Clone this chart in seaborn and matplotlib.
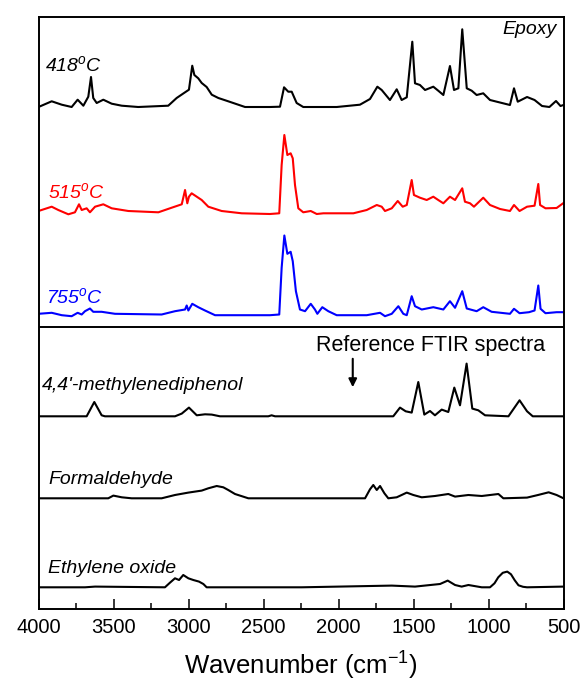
import matplotlib
matplotlib.use("Agg")
import matplotlib.pyplot as plt
import seaborn as sns
from matplotlib.ticker import MultipleLocator

# ---------------- data (wavenumber cm-1, relative absorbance) ----------------
w418 = [4000, 3912, 3845, 3779, 3739, 3701, 3668, 3650, 3635, 3612, 3568, 3512, 3445, 3335, 3135, 3079,
        3023, 2997, 2975, 2961, 2935, 2912, 2879, 2845, 2801, 2735, 2623, 2457, 2390, 2363, 2335, 2312,
        2279, 2235, 2012, 1857, 1790, 1741, 1712, 1657, 1612, 1579, 1545, 1508, 1490, 1457, 1423, 1368,
        1335, 1301, 1257, 1230, 1201, 1175, 1145, 1112, 1079, 1035, 990, 945, 857, 830, 805, 743, 693,
        643, 594, 550, 520, 500]
a418 = [0, 5.7, 2.3, 0, 7.3, 1.3, 10.3, 30, 9, 4, 7.3, 3.3, 1.3, 0, 1.3, 9,
        14.7, 17.3, 41.3, 32, 28.7, 24, 20, 12.3, 9, 5.7, 0, 0, 0.3, 19.7, 15.3, 15.3,
        4, 0, 0, 2.3, 8, 20.3, 17, 7, 17.7, 7, 9.7, 65.3, 23.7, 22, 17, 20.3,
        16.3, 12, 41, 17, 18.7, 77.7, 18.7, 16.3, 12, 13.7, 7, 5.3, 2, 18.7, 5.3, 10, 7,
        1, 0, 6, 1, 2]

w515 = [4000, 3912, 3868, 3801, 3757, 3730, 3712, 3679, 3657, 3623, 3568, 3512, 3401, 3201, 3112, 3045,
        3023, 3008, 2997, 2979, 2945, 2912, 2868, 2779, 2645, 2457, 2395, 2379, 2361, 2341, 2319, 2305,
        2290, 2268, 2235, 2185, 2145, 2101, 1901, 1812, 1745, 1712, 1690, 1645, 1605, 1572, 1545, 1512,
        1497, 1457, 1412, 1368, 1335, 1301, 1257, 1223, 1175, 1157, 1123, 1097, 1035, 990, 923, 857,
        830, 793, 743, 693, 668, 656, 620, 546, 500]
a515 = [0, 4.3, 1, -3.3, -1.3, 6.7, 1, 2.7, -1.3, 4.3, 6.7, 2.7, 0, -1.3, 3.3, 6.7,
        21, 7.7, 14.3, 17.7, 14.3, 11, 4.3, 0, -2.3, -3, -2.3, 46, 76, 56, 57.7, 52.7,
        26, 2.7, -1.3, 0, -3, -2.3, -2.3, 1, 6, 4.3, 0, 2.7, 10, 4.3, 6, 31,
        16, 13.3, 11, 14.3, 11, 7.7, 14.3, 11, 22.7, 9.3, 7.7, 4.3, 13.3, 6, 2, 0,
        6, 0, 4.3, 5.3, 27, 6, 2.7, 3, 8]

w755 = [4000, 3912, 3845, 3779, 3739, 3712, 3690, 3657, 3635, 3579, 3490, 3179, 3090, 3023, 3012, 3001,
        2975, 2935, 2890, 2823, 2457, 2395, 2379, 2361, 2341, 2319, 2305, 2284, 2257, 2223, 2185, 2157,
        2141, 2108, 2068, 2012, 1812, 1723, 1690, 1645, 1601, 1568, 1545, 1512, 1490, 1445, 1368, 1301,
        1257, 1223, 1175, 1145, 1079, 1035, 979, 857, 830, 793, 730, 693, 668, 653, 620, 546, 500]
a755 = [0.7, 1.7, -0.7, -1.7, 1.7, 0, 3.3, 6, 2.7, 2.7, 0.7, 0, 3.3, 5, 9, 4,
        10.7, 7.3, 4, -0.7, -0.7, 0, 46.7, 79, 60.7, 62.7, 53.3, 23.3, 5, 3.3, 10.7, 5,
        0.7, 7.3, 3.3, -0.7, -0.7, 1.7, -1.7, 0.7, 8.3, 0.7, -0.7, 18.3, 8.3, 5, 7.3, 5,
        13.3, 6.7, 23.3, 6, 3.3, 7.3, 2.7, 0.7, 5.7, 1.3, 2.3, 4, 29, 5.7, 1.3, 2.3, 2.3]

w_mdp = [4000, 3679, 3628, 3579, 3557, 3090, 3045, 2997, 2945, 2890, 2845, 2790, 2468, 2446, 2423, 1979,
         1635, 1590, 1552, 1512, 1468, 1428, 1390, 1357, 1312, 1268, 1228, 1190, 1146, 1108, 1068, 1023,
         867, 793, 743, 705, 500]
a_mdp = [0, 0, 14.3, 1, 0, 0, 2.7, 8.7, 1, 2, 1.7, 0, 0, 1, 0, 0,
         0, 8.7, 5, 3.7, 34.3, 1.7, 5.3, 1, 6.7, 4.3, 28.7, 11, 52.7, 7.7, 6, 1,
         0, 16, 5, 0, 0]

w_fa = [4000, 3535, 3501, 3445, 3379, 3179, 3090, 3001, 2912, 2868, 2812, 2768, 2735, 2690, 2601, 1823,
        1790, 1768, 1745, 1723, 1694, 1668, 1612, 1579, 1545, 1501, 1445, 1357, 1268, 1223, 1134, 1045,
        934, 901, 743, 670, 599, 546, 500]
a_fa = [0, 0, 2.7, 1, 0, 0, 3.3, 5.7, 7.7, 10, 12.3, 11, 8.3, 4.3, 0, 0,
        9, 13.3, 8.3, 12.3, 5, 0, 1, 3.3, 5.7, 3.3, 1, 2.3, 4.3, 1.7, 3.3, 2.3,
        4.3, 0, 0.7, 3.3, 6, 3.3, 0]

w_eo = [4000, 3690, 3623, 3157, 3123, 3090, 3063, 3035, 3001, 2968, 2930, 2901, 2879, 2245, 1645, 1490,
        1323, 1272, 1223, 1179, 1134, 1045, 990, 960, 935, 905, 875, 850, 825, 800, 770, 743, 500]
a_eo = [0, 0, 0.7, 0, 4.7, 9, 7.3, 12.3, 9, 7.3, 5.7, 3.3, 0, 0, 1.7, 0.7,
        3.3, 6.7, 2.3, 0.7, 2.3, 0, 0, 4, 10, 14.5, 15.7, 13, 7, 2, 0.5, 0, 0.7]

labels = ["418$^{o}$C", "515$^{o}$C", "755$^{o}$C",
          "4,4'-methylenediphenol", "Formaldehyde", "Ethylene oxide"]
xticks = [4000, 3500, 3000, 2500, 2000, 1500, 1000, 500]

# ---------------- style ----------------
sns.set_style("white")
plt.rcParams["font.family"] = ["Liberation Sans", "DejaVu Sans"]
plt.rcParams["mathtext.fontset"] = "custom"
plt.rcParams["mathtext.rm"] = "Liberation Sans"
plt.rcParams["mathtext.it"] = "Liberation Sans:italic"
plt.rcParams["text.color"] = "black"
plt.rcParams["axes.labelcolor"] = "black"
plt.rcParams["xtick.color"] = "black"
plt.rcParams["axes.edgecolor"] = "black"

fig = plt.figure(figsize=(5.82, 6.84), dpi=100)
W, H = 582, 684
left, right, top, bottom = 38.5, 563.5, 16.5, 608.5
ax = fig.add_axes([left / W, (H - bottom) / H, (right - left) / W, (bottom - top) / H])

series = [
    (w418, a418, 501.5, "black"),
    (w515, a515, 397.5, "#ff0000"),
    (w755, a755, 294.0, "#0000ff"),
    (w_mdp, a_mdp, 192.2, "black"),
    (w_fa, a_fa, 110.2, "black"),
    (w_eo, a_eo, 21.2, "black"),
]
for w, a, off, col in series:
    sns.lineplot(x=w, y=[v + off for v in a], color=col, lw=1.5, ax=ax,
                 estimator=None, sort=False)

ax.axhline(282.0, color="black", lw=1.4)

ax.set_xlim(4000, 500)
ax.set_ylim(0, 592)
ax.set_yticks([])
ax.set_xticks(xticks)
ax.xaxis.set_minor_locator(MultipleLocator(250))
ax.tick_params(axis="x", which="major", direction="in", length=7, width=1.1,
               labelsize=14.5, pad=7, top=False, bottom=True, colors="black")
ax.tick_params(axis="x", which="minor", direction="in", length=4, width=1.1,
               top=False, bottom=True, colors="black")
for s in ax.spines.values():
    s.set_linewidth(1.4)
    s.set_color("black")
ax.set_xlabel("Wavenumber (cm$^{-1}$)", fontsize=18.5, labelpad=9, color="black")

# labels
tfs = 14
ax.text(543, 578.5, "Epoxy", ha="right", va="center", fontsize=tfs, style="italic", color="black")
ax.text(3957, 543.5, labels[0], ha="left", va="center", fontsize=tfs, style="italic", color="black")
ax.text(3939, 416.8, labels[1], ha="left", va="center", fontsize=tfs, style="italic", color="#ff0000")
ax.text(3952, 311.8, labels[2], ha="left", va="center", fontsize=tfs, style="italic", color="#0000ff")
ax.text(3975, 223.5, labels[3], ha="left", va="center", fontsize=tfs, style="italic", color="black")
ax.text(3935, 128.5, labels[4], ha="left", va="center", fontsize=tfs, style="italic", color="black")
ax.text(3939, 40.2, labels[5], ha="left", va="center", fontsize=tfs, style="italic", color="black")

ax.text(2153, 263.5, "Reference FTIR spectra", ha="left", va="center", fontsize=15.5, color="black")
ax.annotate("", xy=(1905, 218.5), xytext=(1905, 252.5),
            arrowprops=dict(arrowstyle="-|>", lw=1.5, color="black", mutation_scale=12))

fig.savefig("out.png", dpi=100)
